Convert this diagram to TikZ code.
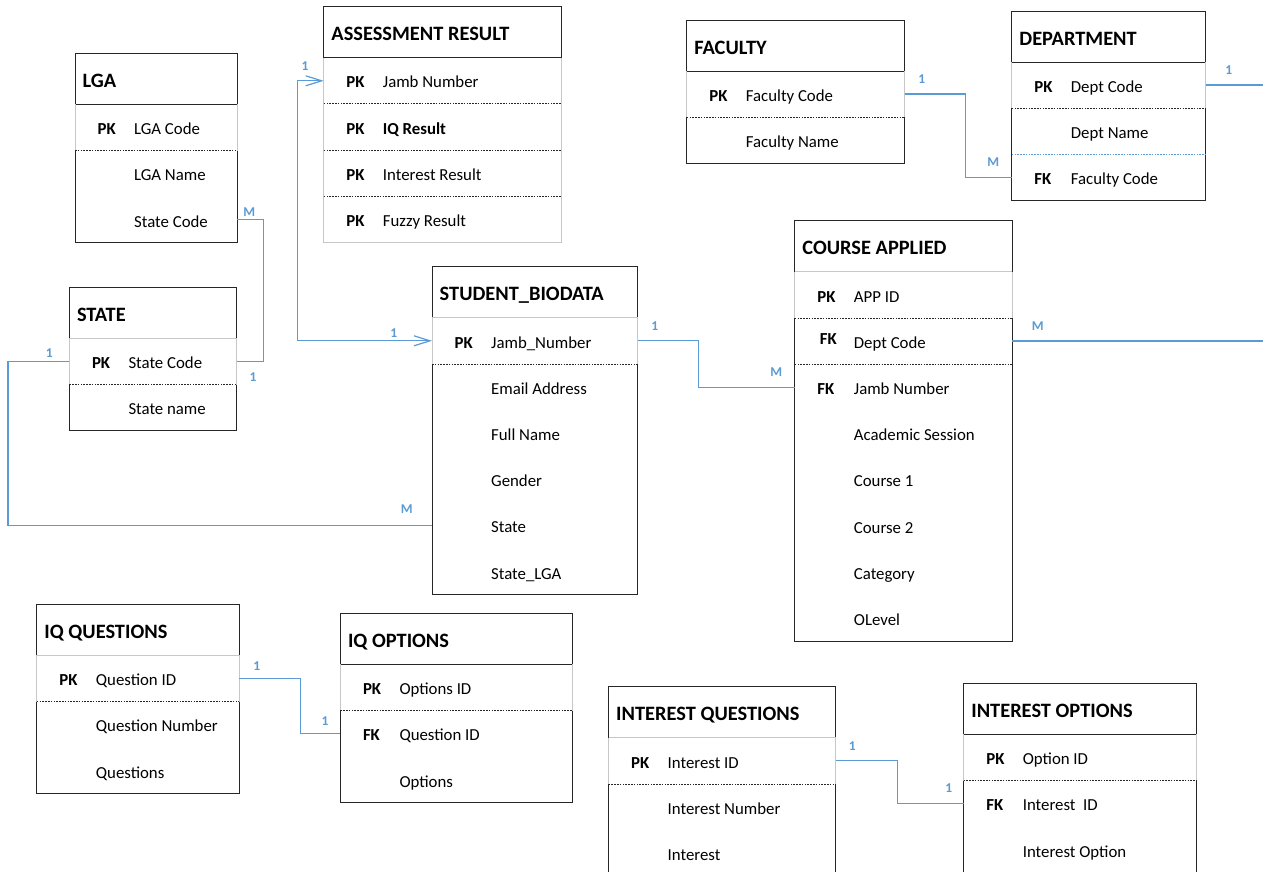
\documentclass[tikz,border=0pt]{standalone}
\usepackage{fontspec}
\setmainfont{Carlito}
\usetikzlibrary{arrows.meta}
\definecolor{linkblue}{HTML}{5B9BD5}

\tikzset{
  boxline/.style={draw=black!85, line width=0.95pt},
  faint/.style={draw=black!22, line width=0.8pt},
  keyrule/.style={draw=black!85, line width=0.8pt, dash pattern=on 1.6pt off 1.2pt},
  bluerule/.style={draw=linkblue, line width=0.8pt, dash pattern=on 1.6pt off 1.2pt},
  titlebox/.style={rectangle, anchor=north west, minimum height=51pt, inner sep=0pt, outer sep=0pt},
  rowbox/.style={rectangle, anchor=north west, minimum height=46.2pt, inner sep=0pt, outer sep=0pt},
  titletext/.style={anchor=base west, inner sep=0pt, font=\fontsize{20.4}{24}\selectfont\bfseries},
  keytext/.style={anchor=base west, inner sep=0pt, font=\fontsize{16.8}{20}\selectfont\bfseries},
  fieldtext/.style={anchor=base west, inner sep=0pt, font=\fontsize{16.8}{20}\selectfont},
  cardlabel/.style={inner sep=0pt, text=linkblue, font=\fontsize{13.5}{15}\selectfont\bfseries},
  relline/.style={draw=linkblue, line width=1.2pt},
  barbs/.style={{Straight Barb[length=16pt,width=10pt]}-{Straight Barb[length=16pt,width=10pt]}},
}

% entity table: #1 name, #2 left, #3 top, #4 width, #5 number of rows,
% #6 title, #7 solid title rule (1) or faint (0), #8 style of the body frame
\newcommand{\ertable}[8]{%
  \node[titlebox, minimum width=#4pt] (#1) at (#2,#3) {};
  \node[titletext] (#1-name) at ([xshift=7.5pt,yshift=-34.2pt]#1.north west) {#6};
  \foreach \i in {1,...,#5}{
    \node[rowbox, minimum width=#4pt] (#1-\i) at (#2,{#3+51+(\i-1)*46.2}) {};
  }
  \draw[boxline] (#1.south west) -- (#1.north west) -- (#1.north east) -- (#1.south east);
  \ifnum#7=1
    \draw[boxline] (#1.south west) -- (#1.south east);
  \else
    \draw[faint] (#1.south west) -- (#1.south east);
  \fi
  \draw[faint] (#1-1.north west) -- (#1-1.south west) (#1-1.north east) -- (#1-1.south east);
  \draw[#8] (#1-1.south west) -- (#1-#5.south west) -- (#1-#5.south east) -- (#1-1.south east);
  \draw[keyrule] (#1-1.south west) -- (#1-1.south east);
}
% a row with a key marker, and a plain row
\newcommand{\erkey}[3]{%
  \node[keytext] (#1-k) at ([xshift=22.5pt,yshift=-7.2pt]#1.west) {#2};
  \node[fieldtext] (#1-t) at ([xshift=59pt,yshift=-7.2pt]#1.west) {#3};
}
\newcommand{\erfield}[2]{%
  \node[fieldtext] (#1-t) at ([xshift=59pt,yshift=-7.2pt]#1.west) {#2};
}

\begin{document}
\begin{tikzpicture}[x=1pt,y=-1pt]
  \useasboundingbox (0,0) rectangle (1263,872);
  \fill[white] (0,0) rectangle (1263,872);
  \clip (0,0) rectangle (1263,872);
  \coordinate (rim) at (1263,0);

  % ---- tables ----
  \ertable{lga}{75}{53.3}{162}{3}{LGA}{1}{boxline}
  \erkey{lga-1}{PK}{LGA Code}
  \erfield{lga-2}{LGA Name}
  \erfield{lga-3}{State Code}

  \ertable{ass}{323.7}{6.7}{237.3}{4}{ASSESSMENT RESULT}{1}{faint}
  \draw[keyrule] (ass-2.south west) -- (ass-2.south east);
  \draw[keyrule] (ass-3.south west) -- (ass-3.south east);
  \erkey{ass-1}{PK}{Jamb Number}
  \erkey{ass-2}{PK}{\bfseries IQ Result}
  \erkey{ass-3}{PK}{Interest Result}
  \erkey{ass-4}{PK}{Fuzzy Result}

  \ertable{sta}{69.3}{287.3}{167.4}{2}{STATE}{0}{boxline}
  \erkey{sta-1}{PK}{State Code}
  \erfield{sta-2}{State name}

  \ertable{stu}{432}{266.7}{205.7}{6}{STUDENT\_BIODATA}{0}{boxline}
  \erkey{stu-1}{PK}{Jamb\_Number}
  \erfield{stu-2}{Email Address}
  \erfield{stu-3}{Full Name}
  \erfield{stu-4}{Gender}
  \erfield{stu-5}{State}
  \erfield{stu-6}{State\_LGA}

  \ertable{crs}{794.7}{220.7}{217.3}{8}{COURSE APPLIED}{0}{boxline}
  \draw[keyrule] (crs-2.south west) -- (crs-2.south east);
  \erkey{crs-1}{PK}{APP ID}
  \node[keytext] (crs-2-k) at ([xshift=24.9pt,yshift=-3pt]crs-2.west) {FK};
  \erfield{crs-2}{Dept Code}
  \erkey{crs-3}{FK}{Jamb Number}
  \erfield{crs-4}{Academic Session}
  \erfield{crs-5}{Course 1}
  \erfield{crs-6}{Course 2}
  \erfield{crs-7}{Category}
  \erfield{crs-8}{OLevel}

  \ertable{fac}{686.7}{20}{217.8}{2}{FACULTY}{1}{boxline}
  \erkey{fac-1}{PK}{Faculty Code}
  \erfield{fac-2}{Faculty Name}

  \ertable{dep}{1011.7}{11}{194}{3}{DEPARTMENT}{1}{boxline}
  \draw[bluerule] (dep-2.south west) -- (dep-2.south east);
  \erkey{dep-1}{PK}{Dept Code}
  \erfield{dep-2}{Dept Name}
  \erkey{dep-3}{FK}{Faculty Code}

  \ertable{iqq}{36.7}{604.3}{202.3}{3}{IQ QUESTIONS}{0}{boxline}
  \erkey{iqq-1}{PK}{Question ID}
  \erfield{iqq-2}{Question Number}
  \erfield{iqq-3}{Questions}

  \ertable{iqo}{340.3}{613.3}{232}{3}{IQ OPTIONS}{1}{boxline}
  \erkey{iqo-1}{PK}{Options ID}
  \erkey{iqo-2}{FK}{Question ID}
  \erfield{iqo-3}{Options}

  \ertable{inq}{608.5}{686.7}{227}{3}{INTEREST QUESTIONS}{0}{boxline}
  \erkey{inq-1}{PK}{Interest ID}
  \erfield{inq-2}{Interest Number}
  \erfield{inq-3}{Interest}

  \ertable{ino}{963.6}{683.3}{232.6}{3}{INTEREST OPTIONS}{1}{boxline}
  \erkey{ino-1}{PK}{Option ID}
  \erkey{ino-2}{FK}{Interest\ \ ID}
  \erfield{ino-3}{Interest Option}

  % ---- relationships ----
  \draw[relline] (lga-3.east) -- ++(26.3,0) |- (sta-1.east);
  \draw[relline] (sta-1.west) -- ++(-61.3,0) |- (stu-5.west);
  \draw[relline,barbs] (stu-1.west) -- ++(-134.7,0) |- (ass-1.west);
  \draw[relline] (stu-1.east) -- ++(61,0) |- (crs-3.west);
  \draw[relline] (crs-2.east) -- (crs-2.east -| rim);
  \draw[relline] (fac-1.east) -- ++(60.8,0) |- (dep-3.west);
  \draw[relline] (dep-1.east) -- (dep-1.east -| rim);
  \draw[relline] (iqq-1.east) -- ++(61.7,0) |- (iqo-2.west);
  \draw[relline] (inq-1.east) -- ++(61.8,0) |- (ino-2.west);

  % ---- cardinalities ----
  \node[cardlabel] (m-lga)    at (249.3,212.3) {M};
  \node[cardlabel] (o-sta-r)  at (253,377)     {1};
  \node[cardlabel] (o-sta-l)  at (49.3,352.7)  {1};
  \node[cardlabel] (m-stu-st) at (406.7,509.3) {M};
  \node[cardlabel] (o-ass)    at (305,66)      {1};
  \node[cardlabel] (o-stu-a)  at (393.7,333.3) {1};
  \node[cardlabel] (o-stu-c)  at (654.7,325.7) {1};
  \node[cardlabel] (m-crs-s)  at (776.3,371.7) {M};
  \node[cardlabel] (m-crs-d)  at (1037.7,325.7) {M};
  \node[cardlabel] (o-dep)    at (1228.7,70.3) {1};
  \node[cardlabel] (o-fac)    at (921.7,79.3)  {1};
  \node[cardlabel] (m-dep)    at (993.3,162.3) {M};
  \node[cardlabel] (o-iqq)    at (256.7,665.7) {1};
  \node[cardlabel] (o-iqo)    at (325,720.7)   {1};
  \node[cardlabel] (o-inq)    at (852.4,746)   {1};
  \node[cardlabel] (o-ino)    at (948.8,788.3) {1};
\end{tikzpicture}
\end{document}
